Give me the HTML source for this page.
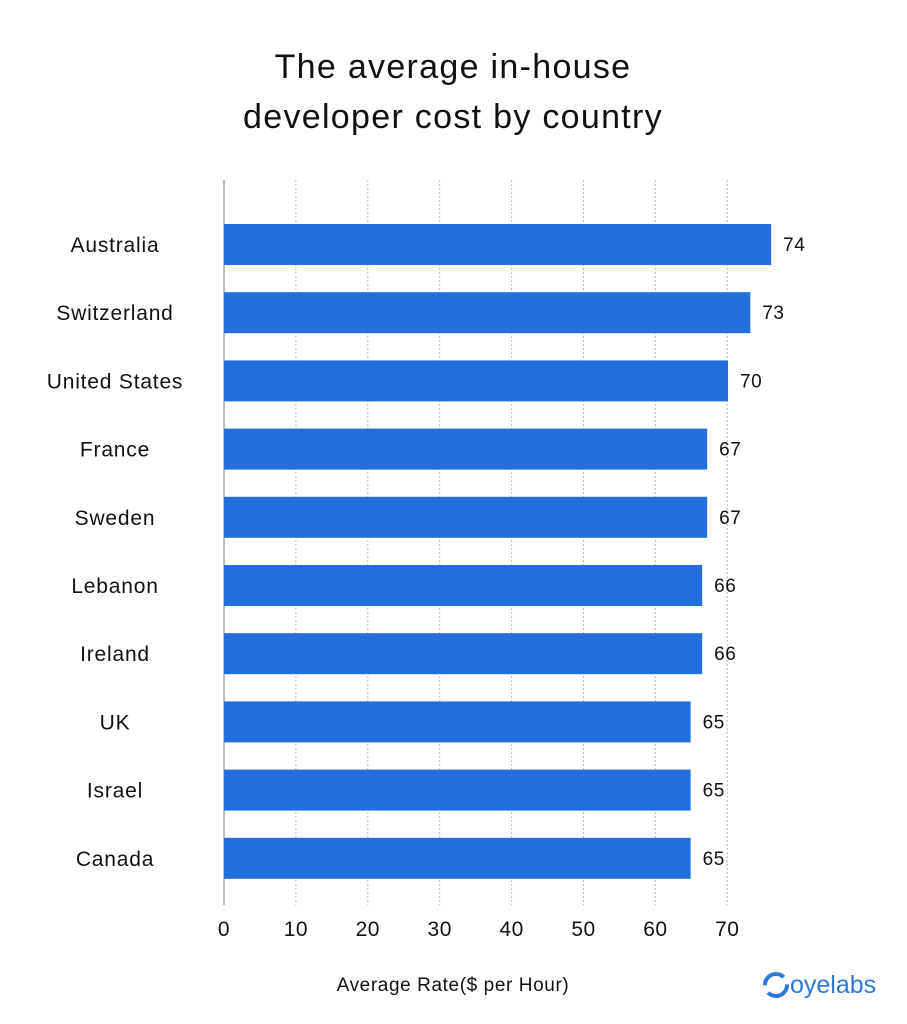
<!DOCTYPE html>
<html><head><meta charset="utf-8"><style>
body{margin:0;background:#fff;}
svg{display:block;font-family:"Liberation Sans",sans-serif;}
</style></head><body>
<svg id="c" width="907" height="1024">
<text x="453" y="78" text-anchor="middle" font-size="34" letter-spacing="1.3" fill="#111">The average in-house</text>
<text x="453" y="128" text-anchor="middle" font-size="34" letter-spacing="1.3" fill="#111">developer cost by country</text>
<text x="453" y="991" text-anchor="middle" font-size="19" letter-spacing="0.6" fill="#111">Average Rate($ per Hour)</text>
<g>
<circle cx="776" cy="985" r="11" fill="none" stroke="#2f78d8" stroke-width="4" stroke-dasharray="26 8"/>
<text x="790" y="993" font-size="25" fill="#2f78d8">oyelabs</text>
</g>
<g id="grid"></g><g id="bars"></g>
</svg>
<script>
const categories=["Australia","Switzerland","United States","France","Sweden","Lebanon","Ireland","UK","Israel","Canada"];
const values=[76.1,73.2,70.1,67.2,67.2,66.5,66.5,64.9,64.9,64.9];
const valueLabels=["74","73","70","67","67","66","66","65","65","65"];
const ticks=[0,10,20,30,40,50,60,70];
const ns="http://www.w3.org/2000/svg";
const x0=224,pxPer=7.19,yTop=210,band=68.2,bh=41;
const xs=v=>x0+v*pxPer;
const ys=i=>yTop+i*band;
function mk(t,a,p){const e=document.createElementNS(ns,t);for(const k in a)e.setAttribute(k,a[k]);p.appendChild(e);return e;}
const g=document.getElementById('grid'),b=document.getElementById('bars');
ticks.forEach(t=>{
 const l=mk('line',{x1:xs(t),x2:xs(t),y1:180,y2:905,stroke:t===0?'#777':'#bbb','stroke-width':1,'stroke-dasharray':t===0?'none':'2 2'},g);
 
 
 const tx=mk('text',{x:xs(t),y:936,'text-anchor':'middle','font-size':21,'letter-spacing':0.5,fill:'#111'},g);
 tx.textContent=t;
 
 
});
categories.forEach((c,i)=>{
 const y=ys(i);
 const r=mk('rect',{x:x0,y:y+14,width:xs(values[i])-x0,height:bh,fill:'#226fdb'},b);
 
 
 const lab=mk('text',{x:115,y:y+42,'text-anchor':'middle','font-size':21,'letter-spacing':0.8,fill:'#111'},b);
 lab.textContent=c;
 
 
 const v=mk('text',{x:xs(values[i])+12,y:y+41,'font-size':19,'letter-spacing':0.5,fill:'#111'},b);
 v.textContent=valueLabels[i];
 
 
});
</script>
</body></html>
